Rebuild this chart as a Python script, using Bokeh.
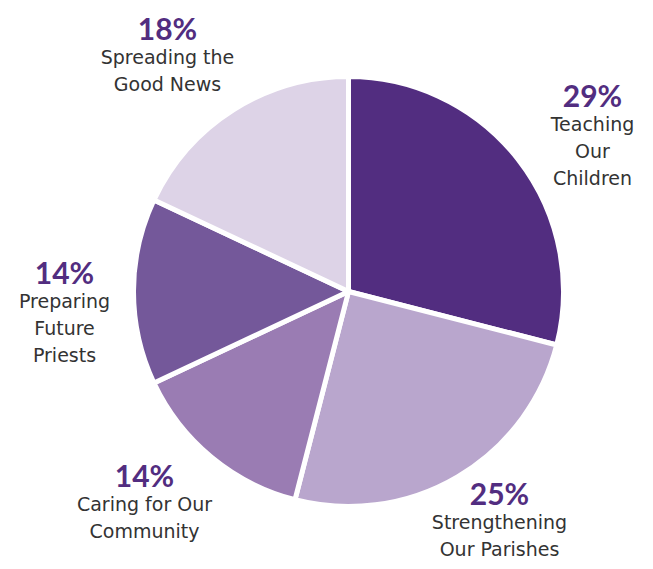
import math
from bokeh.plotting import figure
from bokeh.models import Range1d
from bokeh.core.properties import value
from bokeh.embed import file_html
from bokeh.resources import INLINE

# Data
categories = ["Teaching Our Children", "Strengthening Our Parishes", "Caring for Our Community",
              "Preparing Future Priests", "Spreading the Good News"]
label_lines = [["Teaching", "Our", "Children"], ["Strengthening", "Our Parishes"],
               ["Caring for Our", "Community"], ["Preparing", "Future", "Priests"],
               ["Spreading the", "Good News"]]
shares = [29, 25, 14, 14, 18]
colors = ["#522d80", "#b9a6cd", "#9a7cb3", "#74589a", "#ddd3e7"]

W, H = 637, 561
OFF = 1
p = figure(width=W, height=H, output_backend="svg", toolbar_location=None,
           x_range=Range1d(0, W), y_range=Range1d(0, H), min_border=0)
p.axis.visible = False
p.grid.visible = False
p.outline_line_color = None
p.background_fill_color = "white"

def px(x, y):
    return x - OFF, H - (y - OFF)

cx, cy = px(349, 292)
R = 215
total = sum(shares)
starts, ends = [], []
cum = 0
for s in shares:
    starts.append(math.pi / 2 - 2 * math.pi * cum / total)
    cum += s
    ends.append(math.pi / 2 - 2 * math.pi * cum / total)

p.wedge(x=[cx] * len(shares), y=[cy] * len(shares), radius=R, radius_units="screen",
        start_angle=starts, end_angle=ends, direction="clock",
        fill_color=colors, line_color="white", line_width=5)

# label layout (pixel positions of the percent line)
label_pos = [(593, 95), (500, 493), (145, 475), (65, 272), (168, 28)]
line_gap = 27
first_gap = 29

pct_x, pct_y, pct_t = [], [], []
dx, dy, dt = [], [], []
for (lx, ly), s, lines in zip(label_pos, shares, label_lines):
    x, y = px(lx, ly)
    pct_x.append(x); pct_y.append(y); pct_t.append(f"{s}%")
    for i, ln in enumerate(lines):
        x2, y2 = px(lx, ly + first_gap + i * line_gap)
        dx.append(x2); dy.append(y2); dt.append(ln)

p.text(x=pct_x, y=pct_y, text=pct_t, text_align="center", text_baseline="middle",
       text_font=value("Lato"), text_font_style="bold", text_font_size="30px",
       text_color="#522d80")
p.text(x=dx, y=dy, text=dt, text_align="center", text_baseline="middle",
       text_font=value("DejaVu Sans"), text_font_size="19px", text_color="#333333")

open("out.html", "w").write(file_html(p, INLINE))
